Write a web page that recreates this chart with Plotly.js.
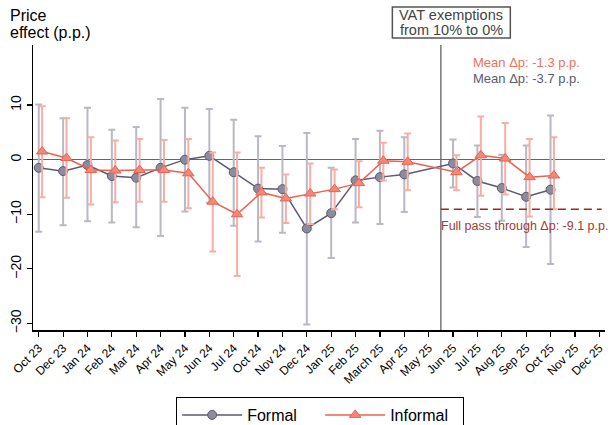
<!DOCTYPE html>
<html>
<head>
<meta charset="utf-8">
<script src="https://cdn.plot.ly/plotly-3.0.1.min.js"></script>
<style>html,body{margin:0;padding:0;background:#fff;}#chart{width:612px;height:425px;}</style>
</head>
<body>
<div id="chart"></div>
<script>
const categories = ["Oct 23","Dec 23","Jan 24","Feb 24","Mar 24","Apr 24","May 24","Jun 24","Jul 24","Oct 24","Nov 24","Dec 24","Jan 25","Feb 25","March 25","Apr 25","May 25","Jun 25","Jul 25","Aug 25","Sep 25","Oct 25","Nov 25","Dec 25"];

const formal      = [-1.5, -2.1, -1.0, -3.0, -3.3, -1.5, 0.0, 0.7, -2.3, -5.3, -5.4, -12.6, -9.8, -3.8, -3.2, -2.7, null, -0.7, -3.9, -5.2, -6.8, -5.5, null, null];
const formalHigh  = [10.1, 7.6, 9.5, 5.5, 6.0, 11.1, 9.5, 9.3, 7.3, 4.3, 2.5, 4.9, -1.5, 3.8, 5.3, 4.1, null, 3.7, 2.6, 0.9, 2.6, 8.1, null, null];
const formalLow   = [-13.2, -12.0, -11.3, -11.5, -12.4, -14.0, -9.5, -7.9, -12.1, -15.0, -13.4, -30.2, -18.0, -11.5, -11.8, -9.6, null, -5.1, -10.5, -11.2, -16.0, -19.1, null, null];

const informal     = [1.5, 0.3, -1.9, -2.0, -1.9, -1.9, -2.5, -7.7, -10.0, -6.0, -7.1, -6.2, -5.4, -4.3, -0.2, -0.4, null, -2.3, 0.8, 0.2, -3.2, -2.9, null, null];
const informalHigh = [9.8, 7.6, 4.1, 3.5, 3.8, 3.6, 3.8, 1.3, 1.3, -1.5, -2.7, -0.7, -1.8, -0.3, 3.1, 4.8, null, 0.8, 7.9, 6.7, 3.8, 4.1, null, null];
const informalLow  = [-6.9, -7.0, -8.2, -7.8, -7.7, -7.7, -8.9, -16.8, -21.3, -10.6, -11.6, -11.8, -9.1, -8.7, -3.8, -5.6, null, -5.6, -6.6, -6.4, -10.4, -9.1, null, null];

const yTicks = [-30, -20, -10, 0, 10];
const reformIndex = 16.5;   // between May 25 and Jun 25
const fullPassThrough = -9.1;
const meanInformal = "Mean Δp: -1.3 p.p.";
const meanFormal = "Mean Δp: -3.7 p.p.";
const boxLines = ["VAT exemptions", "from 10% to 0%"];

const idx = categories.map((c, i) => i);
const informalShift = 0.14;

function errs(vals, hi, lo) {
  return {
    plus: vals.map((v, i) => v === null ? null : hi[i] - v),
    minus: vals.map((v, i) => v === null ? null : v - lo[i])
  };
}
const fe = errs(formal, formalHigh, formalLow);
const ie = errs(informal, informalHigh, informalLow);

const cFormalLine = "#5b5a70";
const cFormalFill = "#8d8c9c";
const cFormalErr = "#b9b8c4";
const cInfLine = "#f0604e";
const cInfFill = "#f48878";
const cInfErr = "#f7aea6";

const traces = [
  {
    name: "Formal", type: "scatter", mode: "lines+markers",
    x: idx, y: formal, connectgaps: true,
    line: {color: cFormalLine, width: 1.5},
    marker: {symbol: "circle", size: 9, color: cFormalFill, line: {color: cFormalLine, width: 1}},
    error_y: {type: "data", symmetric: false, array: fe.plus, arrayminus: fe.minus, color: cFormalErr, thickness: 2, width: 3.5}
  },
  {
    name: "Informal", type: "scatter", mode: "lines+markers",
    x: idx.map(i => i + informalShift), y: informal, connectgaps: true,
    line: {color: cInfLine, width: 1.5},
    marker: {symbol: "triangle-up", size: 10, color: cInfFill, line: {color: cInfLine, width: 1}},
    error_y: {type: "data", symmetric: false, array: ie.plus, arrayminus: ie.minus, color: cInfErr, thickness: 2, width: 3.5}
  }
];

const font = "Liberation Sans, Arial, Helvetica, sans-serif";

const layout = {
  width: 612, height: 425,
  margin: {l: 33, r: 7, t: 45, b: 95, autoexpand: false},
  paper_bgcolor: "#fff", plot_bgcolor: "#fff",
  font: {family: font, color: "#000"},
  showlegend: true,
  legend: {
    orientation: "h", x: 0.502, xanchor: "center", y: -0.235, yanchor: "top",
    bordercolor: "#000", borderwidth: 1, font: {size: 16, family: font},
    itemwidth: 60, entrywidth: 68, traceorder: "normal"
  },
  xaxis: {
    automargin: false,
    range: [-0.235, 23.235], tickmode: "array", tickvals: idx, ticktext: categories,
    tickangle: -45, tickfont: {size: 12, family: font},
    showgrid: false, zeroline: false, showline: true, linecolor: "#000", linewidth: 1.5,
    ticks: "outside", ticklen: 5, tickcolor: "#000", tickwidth: 1.2
  },
  yaxis: {
    automargin: false,
    range: [-31.2, 21], tickmode: "array", tickvals: yTicks,
    tickangle: -90, tickfont: {size: 14, family: font},
    showgrid: false, zeroline: true, zerolinecolor: "#666", zerolinewidth: 1.5,
    showline: true, linecolor: "#000", linewidth: 1.5,
    ticks: "outside", ticklen: 5, tickcolor: "#000", tickwidth: 1.2
  },
  shapes: [
    {type: "line", xref: "x", yref: "paper", x0: reformIndex, x1: reformIndex, y0: 0, y1: 1,
     line: {color: "#777", width: 1.5}, layer: "below"},
    {type: "line", xref: "x", yref: "y", x0: reformIndex, x1: 23.1, y0: fullPassThrough, y1: fullPassThrough,
     line: {color: "#9b2a22", width: 1.5, dash: "8px,5px"}},
    {type: "rect", xref: "x", yref: "paper", x0: 14.51, x1: 19.35, y0: 1.0246, y1: 1.1333,
     line: {color: "#555", width: 1.5}, fillcolor: "rgba(0,0,0,0)"}
  ],
  annotations: [
    {xref: "paper", yref: "paper", x: -0.043, y: 1.1035, xanchor: "left", yanchor: "middle",
     text: "Price", showarrow: false, font: {size: 16, family: font, color: "#000"}},
    {xref: "paper", yref: "paper", x: -0.043, y: 1.044, xanchor: "left", yanchor: "middle",
     text: "effect (p.p.)", showarrow: false, font: {size: 16, family: font, color: "#000"}},
    {xref: "x", yref: "paper", x: 16.93, y: 1.105, xanchor: "center", yanchor: "middle",
     text: boxLines[0], showarrow: false, font: {size: 14.5, family: font, color: "#444"}},
    {xref: "x", yref: "paper", x: 16.93, y: 1.053, xanchor: "center", yanchor: "middle",
     text: boxLines[1], showarrow: false, font: {size: 14.5, family: font, color: "#444"}},
    {xref: "x", yref: "y", x: 17.75, y: 17.8, xanchor: "left", yanchor: "middle",
     text: meanInformal, showarrow: false, font: {size: 13, family: font, color: "#f0705e"}},
    {xref: "x", yref: "y", x: 17.75, y: 14.9, xanchor: "left", yanchor: "middle",
     text: meanFormal, showarrow: false, font: {size: 13, family: font, color: "#5b5a70"}},
    {xref: "x", yref: "y", x: reformIndex - 0.08, y: -12.2, xanchor: "left", yanchor: "middle",
     text: "Full pass through Δp: " + fullPassThrough + " p.p.", showarrow: false,
     font: {size: 12.5, family: font, color: "#a33a30"}}
  ]
};

Plotly.newPlot("chart", traces, layout, {displayModeBar: false, staticPlot: true});
</script>
</body>
</html>
